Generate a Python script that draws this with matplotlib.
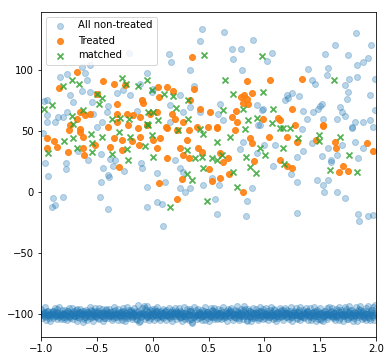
import numpy as np
import matplotlib
matplotlib.use("Agg")
import matplotlib.pyplot as plt

# Non-treated units above the band (x, outcome)
NONTREATED_X = [
    -0.636, -0.561, -0.606, -0.830, -0.770, -0.051, -0.591, -0.636, -0.561, -0.322,
    -0.266, -0.203, -0.740, -0.949, -0.714, -0.546, -0.400, -0.770, -0.848, -0.949,
    -0.949, -0.875, -0.803, -0.457, -0.534, -0.412, -0.098, -0.143, -0.009, -0.114,
    0.003, -0.212, 0.441, 0.638, 0.424, 0.146, 0.161, 0.707, 0.791, 0.898,
    0.719, 0.334, 0.799, 0.370, 0.244, 0.155, 0.334, 0.602, 0.585, 0.271,
    0.931, 0.976, 0.630, 0.943, 0.424, 0.155, 1.820, 1.632, 1.954, 1.543,
    1.749, 1.065, 1.021, 1.927, 1.882, 1.826, 1.391, 1.567, 1.558, 1.424,
    1.453, 1.758, 1.826, 1.722, 1.749, 1.740, 1.946, 1.990, 1.244, 1.200,
    1.310, 1.184, 1.513, 1.480, 1.435, 1.346, 1.677, 1.692, 1.722, 1.990,
    0.988, 1.379, 1.525, 1.647, 1.811, 1.882, 1.946, 1.781, 1.334, 1.498,
    1.211, -0.982, -0.964, -0.937, -0.776, -0.776, -0.893, -0.806, -0.875, -0.904,
    -0.669, -0.579, -0.463, -0.445, -0.400, -0.391, -0.463, -0.472, -0.400, -0.382,
    -0.337, -0.355, -0.257, -0.105, -0.098, -0.051, -0.051, -0.501, 0.036, 0.110,
    0.200, 0.244, 0.271, 0.244, 0.289, 0.334, 0.450, 0.528, 0.594, 0.036,
    0.081, 0.092, 0.558, 0.573, 0.842, 0.886, 0.833, 0.782, 0.808, 0.931,
    0.961, 0.997, 1.095, 1.074, 1.236, 1.289, 1.289, 1.346, 1.424, 1.513,
    1.594, 1.471, 1.522, 1.536, 1.570, 1.722, 1.289, 1.838, 1.847, 1.928,
    1.972, 1.567, 1.647, 1.692, 1.811, 1.835, 1.882, 1.781, 1.972, 1.647,
    -0.973, 1.600,
]
NONTREATED_Y = [
    102.5, 104.3, 97.5, 94.3, 97.0, 97.5, 91.8, 82.8, 82.0, 81.1,
    83.6, 79.5, 79.5, 75.4, 73.8, 73.8, 70.5, 65.6, 61.5, 63.1,
    57.4, 57.4, 61.5, 57.4, 64.2, 65.6, 75.4, 66.4, 82.0, 88.8,
    84.7, 114.0, 133.6, 131.1, 123.8, 113.1, 106.6, 117.2, 117.2, 124.6,
    109.0, 100.0, 100.0, 86.9, 79.5, 71.3, 69.7, 72.1, 64.2, 65.6,
    71.3, 67.2, 59.0, 54.9, 65.6, 57.4, 130.6, 120.5, 120.5, 113.1,
    112.3, 113.9, 107.4, 110.1, 106.6, 104.1, 100.8, 101.6, 96.2, 91.8,
    88.8, 92.6, 94.3, 87.7, 82.0, 76.2, 79.8, 92.6, 81.1, 79.5,
    78.7, 75.4, 72.4, 68.3, 65.6, 66.4, 69.7, 65.6, 62.3, 67.2,
    68.0, 59.8, 59.8, 59.8, 57.4, 57.4, 59.0, 52.5, 51.9, 70.5,
    77.0, 48.4, 23.8, 13.4, 23.8, 18.9, -4.9, -3.9, -10.7, -12.3,
    33.6, 26.2, 31.1, 19.9, 13.9, 12.5, 8.2, -3.9, -13.9, 27.0,
    26.2, 21.3, 17.2, 23.8, 19.7, 4.1, -12.3, 53.5, 15.6, 8.4,
    26.2, 19.7, 16.6, 3.3, 0.2, 3.5, 5.7, 11.7, 5.7, -8.0,
    -9.8, -27.6, -5.7, -18.0, -7.4, 3.3, -19.7, 35.2, 41.0, 32.0,
    54.9, 38.5, 38.5, 21.6, 14.8, 8.2, 28.7, 33.6, 40.2, 29.5,
    24.6, 9.8, 5.7, 0.2, 9.8, -4.7, -17.2, -18.0, -23.5, -19.4,
    -18.9, 36.3, 30.3, 38.5, 41.2, 28.1, 36.1, 53.5, 53.5, 0.2,
    74.6, 26.0,
]

# Non-treated units in the band near -100
BAND_X = [
    -0.995, -0.982, -0.978, -0.961, -0.952, -0.944, -0.931, -0.925, -0.913, -0.902,
    -0.896, -0.884, -0.871, -0.866, -0.853, -0.847, -0.835, -0.824, -0.812, -0.806,
    -0.797, -0.789, -0.776, -0.768, -0.759, -0.744, -0.738, -0.727, -0.715, -0.703,
    -0.698, -0.686, -0.674, -0.665, -0.652, -0.643, -0.636, -0.624, -0.611, -0.604,
    -0.598, -0.585, -0.579, -0.566, -0.553, -0.547, -0.532, -0.526, -0.514, -0.505,
    -0.494, -0.486, -0.471, -0.463, -0.455, -0.441, -0.433, -0.422, -0.414, -0.402,
    -0.395, -0.384, -0.377, -0.363, -0.356, -0.342, -0.335, -0.321, -0.316, -0.304,
    -0.293, -0.287, -0.273, -0.266, -0.254, -0.245, -0.236, -0.223, -0.214, -0.206,
    -0.197, -0.188, -0.176, -0.167, -0.158, -0.146, -0.137, -0.126, -0.118, -0.107,
    -0.098, -0.086, -0.077, -0.068, -0.056, -0.047, -0.036, -0.027, -0.015, -0.006,
    0.004, 0.013, 0.025, 0.034, 0.046, 0.055, 0.067, 0.076, 0.084, 0.095,
    0.106, 0.114, 0.127, 0.135, 0.144, 0.156, 0.165, 0.177, 0.186, 0.195,
    0.203, 0.215, 0.224, 0.236, 0.245, 0.254, 0.266, 0.273, 0.285, 0.296,
    0.304, 0.317, 0.325, 0.334, 0.346, 0.355, 0.363, 0.376, 0.385, 0.394,
    0.405, 0.413, 0.426, 0.434, 0.447, 0.456, 0.464, 0.475, 0.487, 0.495,
    0.506, 0.514, 0.527, 0.535, 0.543, 0.556, 0.565, 0.574, 0.586, 0.597,
    0.603, 0.616, 0.624, 0.637, 0.645, 0.653, 0.666, 0.675, 0.684, 0.696,
    0.705, 0.713, 0.726, 0.734, 0.747, 0.755, 0.764, 0.776, 0.785, 0.796,
    0.804, 0.815, 0.826, 0.833, 0.845, 0.857, 0.864, 0.873, 0.886, 0.894,
    0.906, 0.915, 0.924, 0.937, 0.946, 0.953, 0.966, 0.975, 0.984, 0.995,
    1.006, 1.014, 1.025, 1.037, 1.044, 1.056, 1.065, 1.073, 1.087, 1.096,
    1.104, 1.116, 1.124, 1.135, 1.147, 1.156, 1.164, 1.177, 1.186, 1.193,
    1.205, 1.213, 1.226, 1.234, 1.247, 1.255, 1.266, 1.274, 1.283, 1.295,
    1.306, 1.314, 1.327, 1.335, 1.343, 1.356, 1.365, 1.377, 1.384, 1.396,
    1.404, 1.416, 1.425, 1.433, 1.446, 1.454, 1.467, 1.476, 1.485, 1.493,
    1.505, 1.514, 1.526, 1.535, 1.547, 1.553, 1.565, 1.574, 1.586, 1.595,
    1.604, 1.615, 1.623, 1.636, 1.645, 1.657, 1.664, 1.676, 1.683, 1.695,
    1.706, 1.714, 1.725, 1.737, 1.744, 1.756, 1.765, 1.773, 1.787, 1.794,
    1.806, 1.813, 1.827, 1.835, 1.844, 1.855, 1.866, 1.874, 1.883, 1.896,
    1.905, 1.914, 1.925, 1.936, 1.945, 1.956, 1.963, 1.976, 1.985, 1.996,
]
BAND_Y = [
    -101.2, -98.7, -100.4, -102.3, -99.1, -97.6, -100.9, -103.1, -99.6, -101.8,
    -97.9, -100.2, -98.4, -101.5, -96.3, -100.7, -102.6, -99.3, -101.0, -98.8,
    -99.8, -102.1, -100.5, -97.2, -101.4, -99.0, -103.4, -100.1, -98.2, -101.9,
    -99.5, -96.8, -100.8, -102.7, -99.2, -101.3, -97.7, -100.0, -104.1, -98.9,
    -100.6, -98.3, -101.7, -99.4, -96.5, -102.2, -100.3, -98.1, -101.1, -99.7,
    -103.6, -97.4, -100.9, -99.0, -101.6, -98.6, -102.9, -100.2, -97.1, -101.4,
    -99.3, -101.8, -98.0, -100.6, -102.9, -99.9, -96.9, -101.2, -100.0, -98.5,
    -102.4, -100.8, -97.5, -99.6, -101.5, -103.3, -98.8, -100.4, -96.6, -101.9,
    -100.7, -98.4, -102.0, -99.2, -101.3, -97.8, -104.6, -100.1, -106.3, -98.9,
    -101.7, -99.5, -93.4, -95.2, -100.4, -102.8, -98.2, -101.0, -99.7, -97.3,
    -101.5, -99.0, -100.8, -97.9, -102.5, -100.2, -98.6, -101.9, -99.4, -103.2,
    -100.6, -97.4, -101.2, -99.8, -102.1, -98.3, -100.9, -96.7, -101.6, -99.1,
    -100.3, -98.1, -101.8, -99.5, -97.2, -102.3, -100.0, -98.8, -101.4, -99.3,
    -103.0, -100.6, -97.9, -101.1, -104.4, -106.2, -99.7, -102.0, -96.9, -100.5,
    -101.0, -98.6, -100.4, -102.6, -99.1, -97.5, -101.7, -100.1, -98.3, -103.1,
    -99.8, -101.4, -97.0, -100.7, -102.2, -99.4, -98.0, -101.2, -100.0, -103.5,
    -99.2, -101.6, -98.5, -100.9, -102.8, -97.7, -100.3, -99.0, -101.9, -96.8,
    -100.6, -98.2, -102.1, -99.6, -101.0, -97.3, -100.2, -103.0, -98.9, -101.4,
    -100.8, -98.4, -96.2, -102.0, -106.1, -99.3, -101.5, -97.9, -100.1, -102.9,
    -99.0, -101.2, -98.6, -100.5, -103.4, -97.6, -100.9, -99.4, -101.8, -98.1,
    -101.1, -99.6, -97.4, -100.7, -102.5, -98.8, -101.3, -100.0, -97.1, -103.3,
    -99.7, -101.6, -98.2, -100.4, -102.2, -99.1, -96.6, -101.0, -100.2, -98.5,
    -99.4, -101.9, -100.3, -97.8, -102.7, -99.0, -101.2, -98.4, -100.8, -103.6,
    -99.7, -96.5, -101.5, -100.1, -98.7, -102.4, -99.2, -101.1, -97.5, -100.6,
    -101.3, -98.9, -100.5, -102.9, -99.4, -97.2, -101.7, -100.0, -103.8, -98.3,
    -105.3, -100.9, -99.1, -101.8, -97.6, -100.4, -102.3, -99.6, -101.0, -98.0,
    -100.2, -102.6, -98.6, -101.4, -99.3, -96.7, -100.8, -103.2, -98.0, -101.1,
    -99.8, -102.0, -97.4, -100.5, -103.9, -98.7, -96.4, -101.6, -99.5, -100.9,
    -98.4, -101.2, -100.0, -102.8, -99.1, -96.9, -101.7, -98.8, -100.6, -103.5,
    -99.5, -97.2, -101.4, -100.2, -104.8, -98.1, -96.5, -102.3, -100.7, -99.0,
]

# Second pass over the band, the looser points at its edges
BAND_EDGE_X = [
    -0.999, -0.987, -0.973, -0.966, -0.957, -0.948, -0.936, -0.921, -0.917, -0.907,
    -0.891, -0.879, -0.876, -0.861, -0.857, -0.842, -0.829, -0.818, -0.815, -0.801,
    -0.793, -0.782, -0.771, -0.763, -0.752, -0.749, -0.733, -0.721, -0.711, -0.707,
    -0.692, -0.681, -0.677, -0.661, -0.657, -0.647, -0.631, -0.628, -0.615, -0.607,
    -0.594, -0.589, -0.572, -0.561, -0.557, -0.542, -0.538, -0.522, -0.518, -0.509,
    -0.497, -0.481, -0.477, -0.467, -0.451, -0.447, -0.437, -0.427, -0.417, -0.406,
    -0.398, -0.388, -0.373, -0.367, -0.352, -0.347, -0.338, -0.326, -0.311, -0.308,
    -0.297, -0.283, -0.278, -0.262, -0.258, -0.249, -0.232, -0.228, -0.218, -0.202,
    -0.193, -0.183, -0.172, -0.163, -0.153, -0.142, -0.133, -0.122, -0.112, -0.103,
    -0.093, -0.081, -0.073, -0.062, -0.052, -0.043, -0.031, -0.022, -0.011, -0.002,
    0.008, 0.018, 0.029, 0.038, 0.042, 0.051, 0.063, 0.072, 0.088, 0.091,
    0.102, 0.118, 0.122, 0.131, 0.148, 0.152, 0.161, 0.173, 0.182, 0.198,
    0.207, 0.211, 0.228, 0.232, 0.241, 0.258, 0.262, 0.277, 0.281, 0.292,
    0.308, 0.312, 0.321, 0.338, 0.342, 0.351, 0.367, 0.372, 0.381, 0.398,
    0.402, 0.417, 0.422, 0.438, 0.443, 0.452, 0.468, 0.471, 0.483, 0.492,
    0.502, 0.518, 0.523, 0.531, 0.547, 0.552, 0.561, 0.578, 0.582, 0.593,
    0.608, 0.612, 0.628, 0.633, 0.641, 0.658, 0.662, 0.671, 0.688, 0.692,
    0.701, 0.718, 0.722, 0.738, 0.743, 0.751, 0.768, 0.772, 0.781, 0.792,
    0.808, 0.812, 0.822, 0.838, 0.842, 0.851, 0.868, 0.877, 0.881, 0.898,
    0.902, 0.911, 0.928, 0.932, 0.941, 0.958, 0.962, 0.971, 0.988, 0.992,
    1.002, 1.018, 1.022, 1.033, 1.048, 1.052, 1.061, 1.078, 1.082, 1.091,
    1.108, 1.112, 1.121, 1.138, 1.142, 1.151, 1.168, 1.172, 1.181, 1.198,
    1.202, 1.218, 1.222, 1.238, 1.242, 1.251, 1.262, 1.278, 1.287, 1.291,
    1.302, 1.318, 1.322, 1.331, 1.348, 1.352, 1.361, 1.372, 1.388, 1.392,
    1.408, 1.412, 1.421, 1.438, 1.442, 1.458, 1.462, 1.471, 1.481, 1.497,
    1.502, 1.518, 1.521, 1.531, 1.542, 1.558, 1.562, 1.571, 1.582, 1.598,
    1.608, 1.611, 1.628, 1.632, 1.641, 1.652, 1.668, 1.672, 1.688, 1.691,
    1.702, 1.718, 1.722, 1.733, 1.748, 1.752, 1.761, 1.778, 1.782, 1.798,
    1.802, 1.818, 1.822, 1.831, 1.848, 1.852, 1.861, 1.878, 1.887, 1.892,
    1.908, 1.911, 1.921, 1.932, 1.941, 1.952, 1.968, 1.972, 1.981, 1.992,
]
BAND_EDGE_Y = [
    -96.2, -103.5, -99.0, -94.1, -104.8, -101.2, -97.3, -100.6, -105.9, -98.2,
    -102.9, -95.4, -100.9, -103.8, -98.7, -94.6, -101.5, -104.2, -97.0, -100.3,
    -103.9, -96.5, -98.9, -105.1, -95.3, -102.4, -99.6, -94.8, -104.4, -97.9,
    -101.7, -105.6, -96.1, -98.4, -103.2, -95.7, -100.4, -106.2, -97.5, -102.8,
    -96.9, -104.6, -99.8, -94.2, -103.0, -97.6, -105.4, -101.4, -95.0, -102.7,
    -98.1, -94.7, -104.1, -100.5, -96.3, -105.7, -99.1, -103.5, -95.9, -98.6,
    -103.3, -95.6, -100.7, -104.9, -97.4, -94.0, -102.1, -98.9, -105.2, -96.0,
    -101.9, -99.4, -104.5, -95.1, -97.8, -106.0, -100.8, -94.5, -103.1, -98.3,
    -96.7, -103.7, -99.5, -94.9, -104.3, -101.0, -92.8, -97.5, -105.5, -102.2,
    -95.3, -99.9, -104.0, -96.4, -93.6, -101.6, -105.0, -97.0, -103.4, -95.8,
    -104.5, -96.0, -98.7, -103.6, -94.4, -100.9, -105.3, -97.2, -102.5, -95.5,
    -99.3, -104.7, -96.8, -101.8, -94.9, -103.0, -98.0, -105.8, -100.1, -95.2,
    -97.3, -104.2, -100.5, -95.0, -102.9, -98.4, -105.6, -94.6, -101.3, -103.8,
    -96.2, -99.7, -104.9, -95.7, -97.8, -107.0, -102.6, -94.3, -100.8, -104.0,
    -95.8, -103.3, -99.2, -105.0, -96.6, -101.9, -94.1, -104.6, -98.0, -100.3,
    -105.7, -95.4, -102.4, -97.4, -104.1, -94.8, -100.6, -103.7, -96.1, -99.0,
    -104.4, -96.4, -101.1, -94.3, -103.5, -99.4, -105.5, -95.9, -97.6, -102.7,
    -94.9, -104.8, -100.0, -96.9, -103.1, -93.8, -98.5, -105.1, -101.7, -95.5,
    -97.1, -103.9, -93.2, -100.4, -104.6, -95.8, -102.2, -98.6, -105.4, -94.7,
    -101.4, -103.6, -96.3, -99.1, -105.2, -94.2, -102.9, -97.7, -104.3, -95.6,
    -103.0, -95.2, -99.8, -105.3, -97.0, -102.6, -94.5, -104.0, -100.9, -96.0,
    -105.8, -98.2, -103.4, -94.9, -101.3, -96.7, -104.6, -99.4, -95.3, -102.8,
    -96.5, -104.3, -99.0, -94.6, -102.3, -105.5, -97.6, -100.7, -95.1, -103.7,
    -98.4, -105.0, -94.4, -101.6, -96.8, -103.2, -99.6, -94.9, -104.7, -97.2,
    -102.5, -95.4, -104.9, -98.1, -94.0, -101.5, -105.7, -96.6, -100.2, -103.9,
    -94.8, -99.5, -106.1, -97.3, -102.0, -95.1, -104.2, -98.8, -93.9, -101.9,
    -95.0, -103.4, -99.7, -105.2, -96.2, -102.1, -94.3, -104.5, -100.4, -97.0,
    -105.9, -93.9, -101.2, -95.6, -98.3, -104.0, -93.5, -102.7, -96.4, -105.4,
    -103.1, -94.2, -99.3, -105.6, -96.0, -101.0, -93.6, -104.1, -97.5, -102.3,
    -94.8, -105.2, -99.9, -93.3, -103.4, -96.9, -101.7, -94.6, -104.7, -92.9,
]

# Third pass, the dense middle of the band
BAND_CORE_X = [
    -0.991, -0.975, -0.963, -0.949, -0.934, -0.919, -0.905, -0.889, -0.874, -0.859,
    -0.845, -0.831, -0.816, -0.799, -0.786, -0.771, -0.755, -0.741, -0.726, -0.712,
    -0.694, -0.681, -0.666, -0.651, -0.637, -0.621, -0.606, -0.592, -0.577, -0.563,
    -0.546, -0.531, -0.518, -0.503, -0.488, -0.472, -0.457, -0.443, -0.429, -0.412,
    -0.397, -0.381, -0.368, -0.352, -0.337, -0.323, -0.308, -0.294, -0.279, -0.264,
    -0.248, -0.233, -0.219, -0.204, -0.189, -0.175, -0.159, -0.144, -0.131, -0.115,
    -0.096, -0.083, -0.067, -0.053, -0.038, -0.024, -0.009, 0.006, 0.021, 0.037,
    0.052, 0.066, 0.081, 0.097, 0.111, 0.126, 0.142, 0.157, 0.171, 0.186,
    0.201, 0.217, 0.231, 0.246, 0.262, 0.276, 0.291, 0.306, 0.321, 0.337,
    0.352, 0.366, 0.381, 0.397, 0.411, 0.427, 0.441, 0.456, 0.472, 0.487,
    0.502, 0.516, 0.532, 0.547, 0.561, 0.577, 0.592, 0.607, 0.621, 0.636,
    0.652, 0.667, 0.681, 0.696, 0.712, 0.727, 0.741, 0.756, 0.772, 0.787,
    0.801, 0.817, 0.832, 0.846, 0.862, 0.876, 0.891, 0.907, 0.922, 0.936,
    0.951, 0.967, 0.982, 0.997, 1.011, 1.026, 1.042, 1.057, 1.071, 1.086,
    1.102, 1.116, 1.131, 1.147, 1.162, 1.176, 1.191, 1.207, 1.221, 1.236,
    1.252, 1.267, 1.281, 1.296, 1.312, 1.326, 1.341, 1.357, 1.371, 1.386,
    1.401, 1.417, 1.432, 1.446, 1.461, 1.477, 1.492, 1.506, 1.522, 1.537,
    1.551, 1.566, 1.582, 1.597, 1.611, 1.627, 1.642, 1.656, 1.671, 1.687,
    1.702, 1.716, 1.731, 1.747, 1.762, 1.776, 1.791, 1.806, 1.821, 1.837,
    1.852, 1.866, 1.881, 1.897, 1.912, 1.926, 1.941, 1.956, 1.971, 1.988,
]
BAND_CORE_Y = [
    -99.6, -101.4, -98.7, -100.9, -102.0, -99.1, -100.4, -97.9, -101.7, -100.1,
    -98.9, -101.2, -100.0, -102.4, -99.3, -100.8, -97.8, -101.5, -99.7, -100.6,
    -101.9, -99.2, -100.5, -98.4, -101.1, -99.9, -102.2, -100.3, -98.6, -101.3,
    -99.5, -100.9, -97.7, -101.6, -100.2, -98.8, -102.0, -99.4, -101.0, -100.0,
    -100.7, -98.5, -101.8, -99.6, -100.3, -102.5, -99.0, -101.2, -98.1, -100.5,
    -99.3, -101.4, -100.1, -97.6, -102.1, -99.8, -100.9, -98.7, -101.6, -100.2,
    -101.0, -99.1, -100.6, -102.3, -98.3, -100.0, -101.5, -99.4, -100.8, -97.9,
    -100.4, -102.0, -99.2, -101.1, -98.6, -100.7, -99.9, -101.8, -100.1, -98.4,
    -101.3, -99.5, -100.2, -102.4, -98.9, -100.9, -99.2, -101.6, -100.0, -97.8,
    -100.6, -102.2, -99.3, -101.0, -98.5, -100.4, -101.9, -99.7, -100.8, -98.2,
    -99.8, -101.5, -100.3, -97.9, -102.1, -100.0, -98.8, -101.3, -99.6, -100.9,
    -101.7, -99.0, -100.5, -98.3, -101.2, -100.1, -102.6, -99.4, -100.7, -98.7,
    -100.2, -101.8, -99.1, -100.9, -97.6, -101.4, -100.0, -98.9, -102.2, -99.5,
    -100.7, -98.6, -101.5, -99.8, -100.3, -102.0, -99.2, -101.1, -98.4, -100.6,
    -99.4, -101.3, -100.1, -97.7, -101.8, -100.5, -98.9, -102.4, -99.7, -100.9,
    -101.1, -99.3, -100.7, -98.1, -101.6, -100.0, -102.1, -99.5, -100.4, -98.7,
    -100.3, -101.9, -99.0, -100.8, -98.4, -101.4, -100.1, -99.2, -102.3, -100.6,
    -99.7, -101.2, -100.4, -97.9, -101.7, -99.3, -100.9, -102.0, -98.6, -100.2,
    -101.4, -99.6, -100.0, -102.5, -98.8, -100.7, -99.1, -101.3, -100.5, -97.8,
    -100.9, -98.5, -101.6, -99.9, -100.3, -102.1, -99.2, -100.8, -98.9, -101.0,
]

TREATED_X = [
    -0.678, -0.445, -0.346, -0.842, -0.501, -0.322, -0.098, -0.087, -0.651, -0.606,
    -0.561, -0.680, -0.322, -0.233, -0.176, -0.114, -0.740, -0.651, -0.322, -0.054,
    -0.024, -0.221, 0.352, 0.844, 0.047, 0.125, 0.370, 0.182, 0.056, 0.334,
    0.788, 0.842, 0.886, 0.808, 0.424, 0.513, 0.746, 0.170, 0.200, 0.271,
    0.752, 0.707, 0.495, 0.573, 0.119, 0.036, 0.394, 0.817, 0.853, 1.050,
    1.337, 1.244, 1.140, 1.274, 1.525, 0.988, 1.122, -0.949, -0.884, -0.859,
    -0.946, -0.758, -0.749, -0.651, -0.624, -0.624, -0.615, -0.517, -0.400, -0.382,
    -0.346, -0.302, -0.278, -0.278, -0.188, -0.123, -0.132, -0.114, 0.125, 0.244,
    0.307, 0.271, 0.325, 0.406, 0.439, 0.260, 0.056, 0.218, 0.504, 0.528,
    0.603, 0.603, 0.627, 0.674, 0.683, 0.808, 0.886, 0.907, 0.036, 0.003,
    0.125, 0.215, 0.325, 0.573, 0.737, 0.065, 0.871, 1.041, 1.202, 1.292,
    1.140, 1.200, 1.247, 1.462, 1.632, 1.641, 1.701, 1.665, 1.749, 1.916,
    1.972, 1.525, -0.248,
]
TREATED_Y = [
    98.4, 91.0, 88.5, 85.2, 80.6, 72.4, 75.4, 73.2, 65.6, 63.1,
    64.2, 60.1, 64.2, 64.2, 63.1, 61.5, 54.9, 51.9, 57.4, 54.9,
    64.2, 54.9, 110.7, 91.0, 86.1, 86.1, 84.7, 82.8, 77.9, 75.4,
    77.9, 76.2, 81.4, 73.2, 68.0, 65.6, 66.4, 64.2, 60.1, 57.4,
    57.4, 61.5, 53.3, 53.3, 53.3, 65.6, 53.3, 79.5, 72.1, 91.8,
    92.6, 68.3, 59.0, 55.2, 54.9, 59.8, 60.7, 44.3, 41.8, 37.1,
    36.1, 33.0, 50.8, 49.4, 45.3, 36.3, 30.3, 38.5, 53.5, 37.1,
    44.5, 20.7, 42.6, 34.4, 41.8, 38.5, 52.7, 45.3, 28.1, 36.3,
    42.6, 30.3, 27.9, 36.1, 33.0, 10.7, 7.4, -5.7, 18.9, 9.0,
    11.7, 32.0, 24.6, 27.9, 14.8, 0.0, 40.2, 25.4, 36.1, 42.6,
    52.5, 50.8, 50.8, 52.5, 50.8, 44.3, 44.3, 45.3, 45.3, 41.2,
    26.2, 21.6, 19.9, 42.6, 41.2, 36.1, 21.6, 16.4, 17.2, 40.2,
    33.6, 54.1, 87.7,
]

MATCHED_X = [
    -0.806, -0.720, -0.660, -0.275, -0.242, -0.132, -0.051, -0.006, -0.499, -0.457,
    -0.481, -0.899, -0.973, -0.624, -0.720, -0.367, -0.293, -0.212, -0.042, -0.054,
    -0.714, 0.459, 0.647, 0.101, 0.182, 0.316, 0.716, 0.988, 0.209, 0.630,
    0.808, 0.003, 0.047, 0.316, 0.853, 0.931, 0.826, 0.424, 0.976, 1.623,
    1.074, 1.065, 1.167, 1.229, -0.937, -0.794, -0.714, -0.680, -0.555, -0.546,
    -0.546, -0.457, -0.367, -0.302, -0.233, -0.221, -0.203, -0.069, 0.000, -0.042,
    -0.009, 0.227, 0.304, 0.379, 0.439, 0.450, 0.304, 0.349, 0.528, 0.573,
    0.618, 0.719, 0.755, 0.486, 0.155, 0.835, 0.925, 0.871, 0.961, 0.692,
    0.450, 0.573, 1.005, 1.167, 1.176, 1.301, 1.489, 1.489, 1.677, 1.758,
    1.587, 1.829, 1.140,
]
MATCHED_Y = [
    86.9, 91.8, 88.8, 93.4, 88.8, 86.9, 91.8, 83.6, 80.3, 77.0,
    72.4, 71.6, 68.3, 67.2, 62.3, 60.1, 60.7, 59.8, 65.6, 56.0,
    56.0, 112.3, 91.8, 80.6, 78.7, 75.4, 80.6, 82.0, 68.9, 67.2,
    68.3, 65.6, 59.0, 60.1, 59.0, 60.7, 51.9, 51.9, 111.5, 91.8,
    68.3, 56.8, 52.5, 52.5, 32.0, 41.8, 44.3, 36.3, 47.5, 40.2,
    33.0, 45.3, 31.1, 49.4, 35.2, 26.2, 45.3, 38.0, 28.9, 54.9,
    46.7, 50.8, 34.4, 28.1, 28.9, 19.9, 14.8, 9.8, 27.9, 26.2,
    30.3, 16.4, 4.1, -7.4, -12.0, 28.9, 15.6, 20.7, 36.3, 45.3,
    47.5, 41.2, 30.3, 36.3, 23.0, 44.5, 46.7, 41.8, 45.3, 30.3,
    18.0, 16.6, 52.7,
]


def main():
    fig = plt.figure(figsize=(391 / 72, 361 / 72), dpi=72)
    ax = fig.add_axes([41 / 391, 24.3 / 361, 335 / 391, 325.2 / 361])

    all_x = np.array(NONTREATED_X + BAND_X + BAND_EDGE_X + BAND_CORE_X)
    all_y = np.array(NONTREATED_Y + BAND_Y + BAND_EDGE_Y + BAND_CORE_Y)

    ax.scatter(all_x, all_y, color="C0", alpha=0.3, label="All non-treated")
    ax.scatter(TREATED_X, TREATED_Y, color="C1", alpha=0.9, label="Treated")
    ax.scatter(MATCHED_X, MATCHED_Y, color="C2", marker="x", alpha=0.8,
               linewidths=1.8, label="matched")

    ax.set_xlim(-1.0, 2.0)
    ax.set_ylim(-118.6, 148.0)
    ax.legend(loc="upper left")

    fig.savefig("out.png", dpi=72)


if __name__ == "__main__":
    main()
